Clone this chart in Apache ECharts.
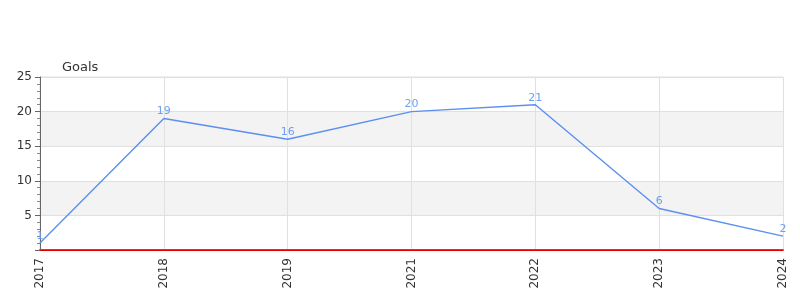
<!DOCTYPE html>
<html><head><meta charset="utf-8">
<script src="https://cdn.jsdelivr.net/npm/echarts@6/dist/echarts.min.js"></script>
<style>html,body{margin:0;padding:0;background:#fff}#c{width:800px;height:300px}</style>
</head><body><div id="c"></div>
<script>
var categories = ['2017','2018','2019','2021','2022','2023','2024'];
var goals = [1, 19, 16, 20, 21, 6, 2];
var yTicks = [0, 5, 10, 15, 20, 25];

var chart = echarts.init(document.getElementById('c'), null, {renderer:'canvas'});
chart.setOption({
  animation: false,
  grid: {left: 40, right: 17, top: 77, bottom: 50, show: true, borderColor: '#e0e0e0', borderWidth: 1, backgroundColor: 'transparent'},
  xAxis: {
    type: 'category', data: categories, boundaryGap: false,
    axisLine: {show: true, lineStyle: {color: '#666', width: 2}},
    axisTick: {show: false},
    axisLabel: {rotate: 90, color: '#333', fontSize: 12, fontFamily: 'DejaVu Sans', margin: 8},
    splitLine: {show: true, lineStyle: {color: '#e0e0e0'}}
  },
  yAxis: {
    type: 'value', min: yTicks[0], max: yTicks[yTicks.length-1], interval: 5,
    name: 'Goals', nameLocation: 'end', nameGap: 3,
    nameTextStyle: {color: '#333', fontSize: 13, fontFamily: 'DejaVu Sans', align: 'left', padding: [0,0,0,22]},
    axisLine: {show: true, lineStyle: {color: '#666'}},
    axisTick: {show: true, length: 5, lineStyle: {color: '#666'}},
    minorTick: {show: true, splitNumber: 5, length: 3, lineStyle: {color: '#888'}},
    axisLabel: {color: '#333', fontSize: 12, fontFamily: 'DejaVu Sans', margin: 8,
      formatter: function(v){ return v === 0 ? '' : String(v); }},
    splitLine: {show: true, lineStyle: {color: '#e0e0e0'}},
    splitArea: {show: true, areaStyle: {color: ['#ffffff', '#f3f3f3']}}
  },
  series: [{
    type: 'line', data: goals, showSymbol: true, symbol: 'circle', symbolSize: 1,
    lineStyle: {color: '#5b8ff0', width: 1.4},
    itemStyle: {color: 'rgba(91,143,240,0)', borderWidth: 0},
    label: {show: true, position: 'top', color: '#6f9ff2', fontSize: 11, fontFamily: 'DejaVu Sans', distance: 1},
    markLine: {silent: true, symbol: 'none', label: {show: false},
      lineStyle: {color: '#e00000', type: 'solid', width: 1},
      data: [{yAxis: 0}]}
  }]
});
</script></body></html>
